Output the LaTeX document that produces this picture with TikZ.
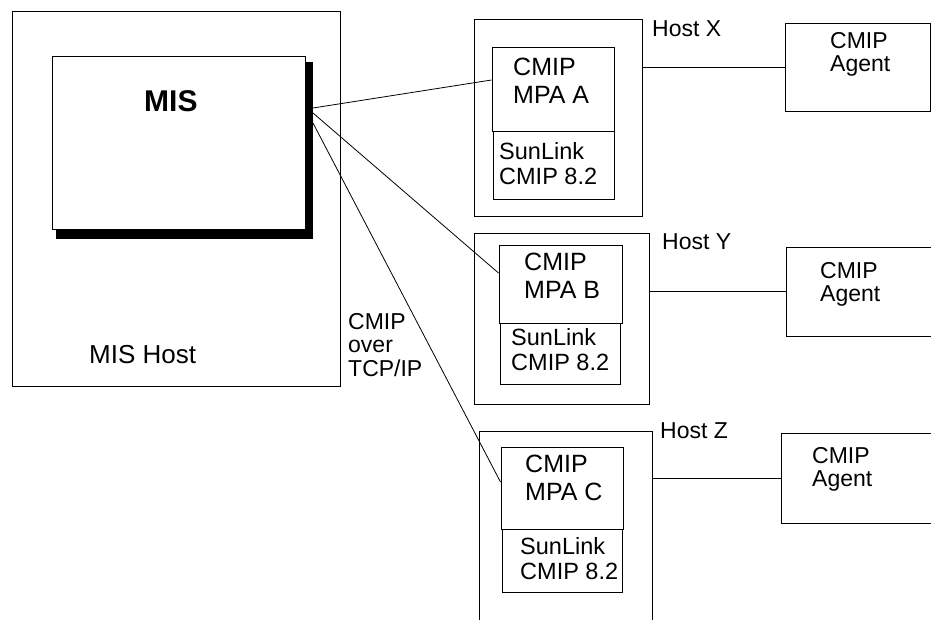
\documentclass[tikz,border=0pt]{standalone}
\usepackage{fontspec}
\setmainfont{Liberation Sans}
\begin{document}
\begin{tikzpicture}[x=1pt,y=-1pt,
  box/.style={draw=black,line width=1pt,inner sep=0pt},
  link/.style={draw=black,line width=0.8pt},
  txt/.style={anchor=north west,inner sep=0pt,align=left,font=\fontsize{23}{23.5}\selectfont},
  mpatxt/.style={txt,font=\fontsize{25}{28}\selectfont},
  suntxt/.style={txt,font=\fontsize{23.5}{25}\selectfont}]
  \clip (0,0) rectangle (931,619);
  % manager side
  \node[box,minimum width=328pt,minimum height=375pt] (mishost) at (176,198.5) {};
  \fill (56,62) rectangle (313,239);
  \node[box,fill=white,minimum width=253pt,minimum height=173pt] (mis) at (178.5,142.5) {};
  \node[txt,font=\fontsize{30}{32}\selectfont\bfseries] (mistext) at (144,90) {MIS};
  \node[txt,font=\fontsize{26}{28}\selectfont] (mishosttext) at (89,345) {MIS Host};
  \node[txt] (overtext) at (348,313) {CMIP\\over\\TCP/IP};
  % host X
  \node[box,minimum width=168pt,minimum height=197pt] (hostX) at (558,117.5) {};
  \node[box,minimum width=122pt,minimum height=84pt] (mpaA) at (553,89) {};
  \node[box,minimum width=121pt,minimum height=68pt] (sunA) at (553.5,165) {};
  \node[mpatxt] (mpaAtext) at (513,58) {CMIP\\MPA A};
  \node[suntxt] (sunAtext) at (499,142) {SunLink\\CMIP 8.2};
  \node[txt] (hostXtext) at (652,20) {Host X};
  % host Y
  \node[box,minimum width=175pt,minimum height=171pt] (hostY) at (561.5,318.5) {};
  \node[box,minimum width=123pt,minimum height=78pt] (mpaB) at (560.5,284) {};
  \node[box,minimum width=120pt,minimum height=61pt] (sunB) at (560,353.5) {};
  \node[mpatxt] (mpaBtext) at (524,253) {CMIP\\MPA B};
  \node[suntxt] (sunBtext) at (511,328) {SunLink\\CMIP 8.2};
  \node[txt] (hostYtext) at (662,233) {Host Y};
  % host Z
  \node[box,minimum width=173pt,minimum height=219pt] (hostZ) at (565.5,540.5) {};
  \node[box,minimum width=122pt,minimum height=82pt] (mpaC) at (562,488) {};
  \node[box,minimum width=120pt,minimum height=63pt] (sunC) at (562,560.5) {};
  \node[mpatxt] (mpaCtext) at (525,455) {CMIP\\MPA C};
  \node[suntxt] (sunCtext) at (520,537) {SunLink\\CMIP 8.2};
  \node[txt] (hostZtext) at (660,422) {Host Z};
  % agents
  \node[box,minimum width=145pt,minimum height=88pt] (agentX) at (857.5,67) {};
  \node[box,minimum width=159pt,minimum height=89pt] (agentY) at (865.5,291.5) {};
  \node[box,minimum width=164pt,minimum height=90pt] (agentZ) at (863,478) {};
  \node[txt] (agentXtext) at (830,32) {CMIP\\Agent};
  \node[txt] (agentYtext) at (820,262) {CMIP\\Agent};
  \node[txt] (agentZtext) at (812,447) {CMIP\\Agent};
  % connections
  \coordinate (portA) at (313,108);
  \coordinate (portB) at (313,113);
  \coordinate (portC) at (313,123);
  \draw[link] (portA) -- ([yshift=9pt]mpaA.west);
  \draw[link] (portB) -- ([yshift=11pt]mpaB.west);
  \draw[link] (portC) -- ([yshift=6pt]mpaC.west);
  \draw[link] (hostX.east |- agentX.west) -- (agentX.west);
  \draw[link] (hostY.east |- agentY.west) -- (agentY.west);
  \draw[link] (hostZ.east |- agentZ.west) -- (agentZ.west);
\end{tikzpicture}
\end{document}
